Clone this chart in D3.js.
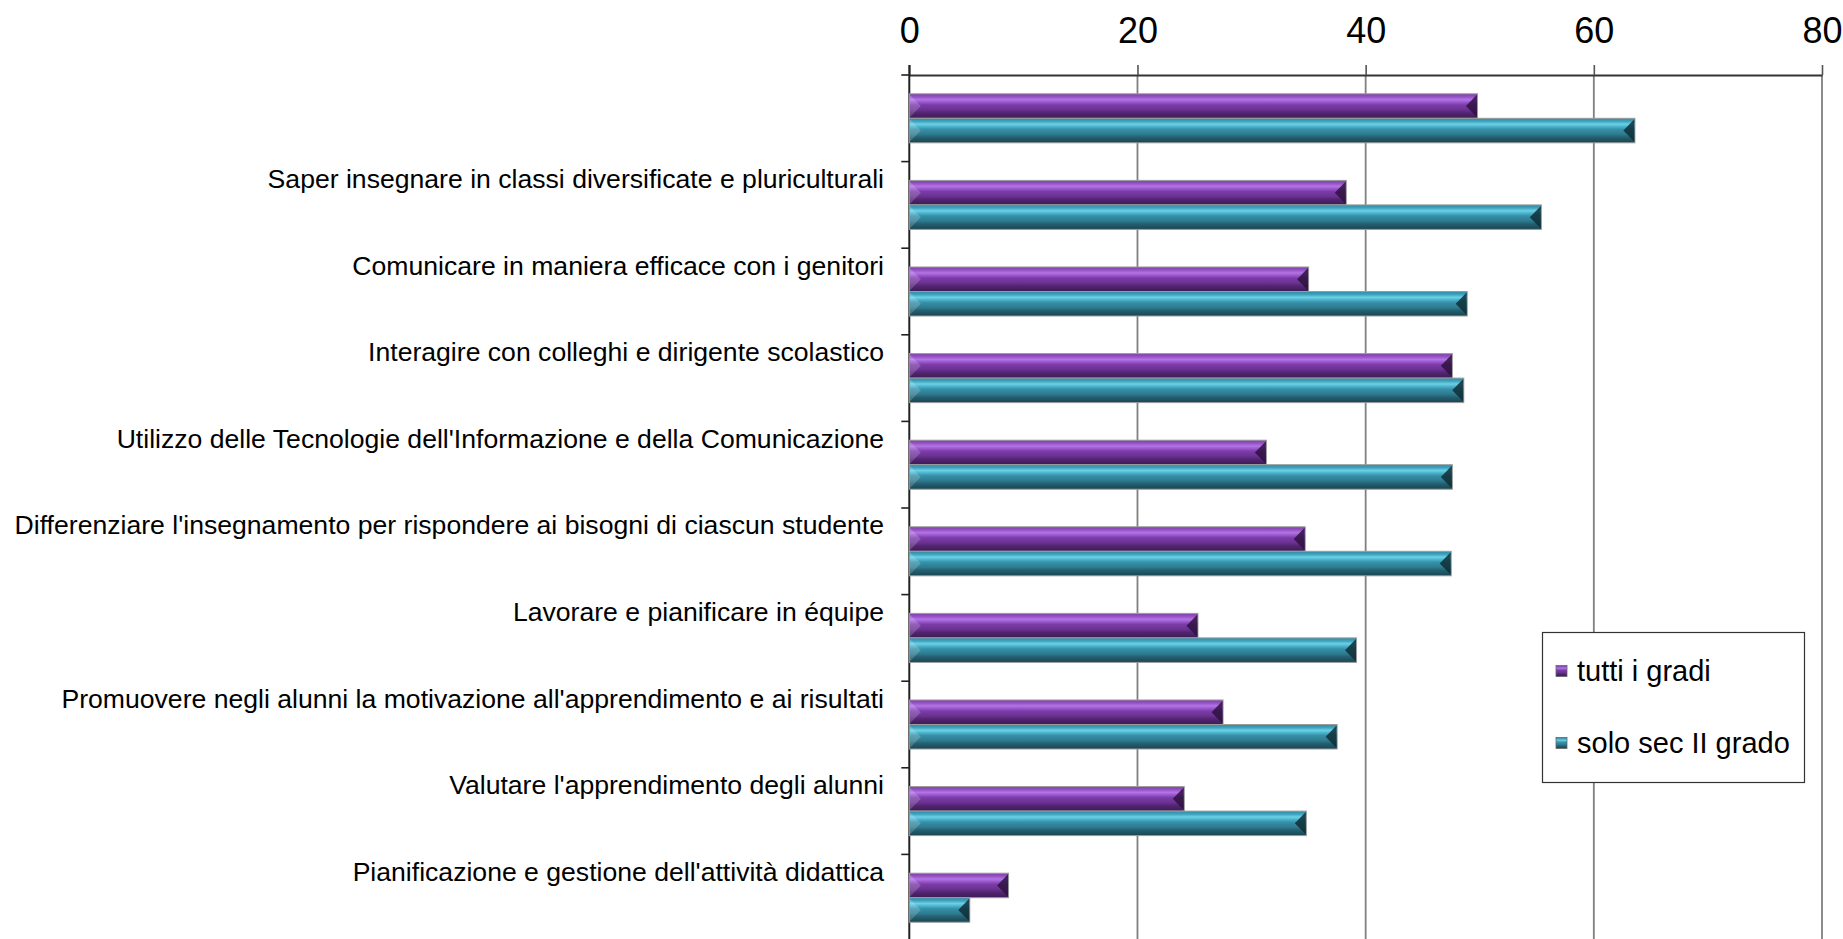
<!DOCTYPE html>
<html>
<head>
<meta charset="utf-8">
<script src="https://cdn.jsdelivr.net/npm/d3@7"></script>
<style>
  html, body { margin: 0; padding: 0; background: #fff; }
  svg { display: block; font-family: "Liberation Sans", Arial, sans-serif; }
</style>
</head>
<body>
<svg id="chart" width="1843" height="939"></svg>
<script>
// Competence areas, top to bottom (the first row carries no label)
const categories = [
  "",
  "Saper insegnare in classi diversificate e pluriculturali",
  "Comunicare in maniera efficace con i genitori",
  "Interagire con colleghi e dirigente scolastico",
  "Utilizzo delle Tecnologie dell'Informazione e della Comunicazione",
  "Differenziare l'insegnamento per rispondere ai bisogni di ciascun studente",
  "Lavorare e pianificare in équipe",
  "Promuovere negli alunni la motivazione all'apprendimento e ai risultati",
  "Valutare l'apprendimento degli alunni",
  "Pianificazione e gestione dell'attività didattica"
];
const seriesNames = ["tutti i gradi", "solo sec II grado"];
const tuttiGradi = [49.8, 38.3, 35.0, 47.6, 31.3, 34.7, 25.3, 27.5, 24.1, 8.7];
const soloSecII  = [63.6, 55.4, 48.9, 48.6, 47.6, 47.5, 39.2, 37.5, 34.8, 5.3];
const xTicks = [0, 20, 40, 60, 80];

const svg = d3.select("#chart");
const plot = { left: 909.3, right: 1822, top: 75, bottom: 941 };

const x = d3.scaleLinear().domain([0, 80]).range([plot.left, plot.right]);
const y = d3.scaleBand()
  .domain(d3.range(categories.length))
  .range([plot.top, plot.bottom])
  .paddingInner(0.434)
  .paddingOuter(0.217);
const ySub = d3.scaleBand().domain([0, 1]).range([0, y.bandwidth()]);

// Bevelled bar shading
const palettes = [
  { stops: [[0, "#7d3fa8"], [0.12, "#9452c4"], [0.24, "#b374e6"], [0.34, "#9a58cc"], [0.45, "#7c3ca8"], [0.65, "#6a3192"], [0.78, "#532570"], [1, "#3d1a55"]], end: "#2e1240" },
  { stops: [[0, "#2f8aa3"], [0.12, "#3fa2bd"], [0.24, "#6cd0e6"], [0.34, "#4cb2cc"], [0.45, "#3690a8"], [0.65, "#2e7b90"], [0.78, "#245f70"], [1, "#1a4551"]], end: "#0f2e36" }
];
const defs = svg.append("defs");
palettes.forEach((p, i) => {
  const g = defs.append("linearGradient").attr("id", "grad" + i)
    .attr("x1", 0).attr("y1", 0).attr("x2", 0).attr("y2", 1);
  p.stops.forEach(s => g.append("stop").attr("offset", s[0]).attr("stop-color", s[1]));
});

// Gridlines
svg.append("g")
  .selectAll("line")
  .data(xTicks.slice(1))
  .join("line")
  .attr("x1", d => x(d)).attr("x2", d => x(d))
  .attr("y1", plot.top).attr("y2", plot.bottom)
  .attr("stroke", "#808080").attr("stroke-width", 1.8);

// Top value axis
const xAxis = svg.append("g")
  .attr("transform", `translate(0,${plot.top})`)
  .call(d3.axisTop(x).tickValues(xTicks).tickSize(10).tickPadding(22.5).tickSizeOuter(0));
xAxis.select(".domain").attr("stroke", "#333").attr("stroke-width", 2);
xAxis.selectAll(".tick line").attr("stroke", "#555").attr("stroke-width", 1.6);
xAxis.selectAll(".tick text")
  .attr("fill", "#000")
  .style("font-size", "36px")
  .style("font-family", "\"Liberation Sans\", Arial, sans-serif");

// Category axis with ticks at band boundaries
const boundaries = d3.range(categories.length + 1).map(i => plot.top + i * y.step());
const catAxis = svg.append("g");
catAxis.append("line")
  .attr("x1", plot.left).attr("x2", plot.left)
  .attr("y1", plot.top - 10).attr("y2", plot.bottom)
  .attr("stroke", "#222").attr("stroke-width", 2);
catAxis.selectAll("line.tk")
  .data(boundaries)
  .join("line").attr("class", "tk")
  .attr("x1", plot.left - 8).attr("x2", plot.left)
  .attr("y1", d => d).attr("y2", d => d)
  .attr("stroke", "#222").attr("stroke-width", 1.6);

catAxis.selectAll("text")
  .data(categories)
  .join("text")
  .attr("x", 884)
  .attr("y", (d, i) => y(i) + y.bandwidth() / 2 - 17)
  .attr("text-anchor", "end")
  .attr("fill", "#000")
  .style("font-size", "26.6px")
  .text(d => d);

// Bars
const rows = categories.map((c, i) => [tuttiGradi[i], soloSecII[i]]);
const groups = svg.append("g").selectAll("g")
  .data(rows)
  .join("g")
  .attr("transform", (d, i) => `translate(0,${y(i)})`);

const bars = groups.selectAll("g.bar")
  .data(d => d.map((v, s) => ({ v, s })))
  .join("g").attr("class", "bar");

bars.append("rect")
  .attr("x", plot.left)
  .attr("y", d => ySub(d.s))
  .attr("width", d => x(d.v) - x(0))
  .attr("height", ySub.bandwidth())
  .attr("fill", d => `url(#grad${d.s})`)
  .attr("stroke", "#9c9c9c").attr("stroke-width", 1);

// Right-end bevel facet
bars.append("path")
  .attr("d", d => {
    const x1 = x(d.v) - 0.5, t = ySub(d.s) + 1, b = ySub(d.s) + ySub.bandwidth() - 1;
    const m = (t + b) / 2;
    return `M${x1},${t}L${x1 - 11},${m}L${x1},${b}Z`;
  })
  .attr("fill", d => palettes[d.s].end)
  .attr("opacity", 0.85);

// Left-end bevel facet
bars.append("path")
  .attr("d", d => {
    const x0 = x(0) + 0.5, t = ySub(d.s) + 1, b = ySub(d.s) + ySub.bandwidth() - 1;
    const m = (t + b) / 2;
    return `M${x0},${t}L${x0 + 11},${m}L${x0},${b}Z`;
  })
  .attr("fill", "#fff")
  .attr("opacity", 0.18);

// Legend
const legend = svg.append("g");
legend.append("rect")
  .attr("x", 1542.5).attr("y", 632.5)
  .attr("width", 262).attr("height", 150)
  .attr("fill", "#fff").attr("stroke", "#333").attr("stroke-width", 1.2);
const items = legend.selectAll("g.item")
  .data(seriesNames)
  .join("g").attr("class", "item")
  .attr("transform", (d, i) => `translate(1556,${671 + i * 72})`);
items.append("rect")
  .attr("x", 0).attr("y", -5.5)
  .attr("width", 11).attr("height", 11)
  .attr("fill", (d, i) => `url(#grad${i})`)
  .attr("stroke", "#666").attr("stroke-width", 0.8);
items.append("text")
  .attr("x", 21).attr("y", 10)
  .attr("fill", "#000")
  .style("font-size", "29px")
  .text(d => d);
</script>
</body>
</html>
